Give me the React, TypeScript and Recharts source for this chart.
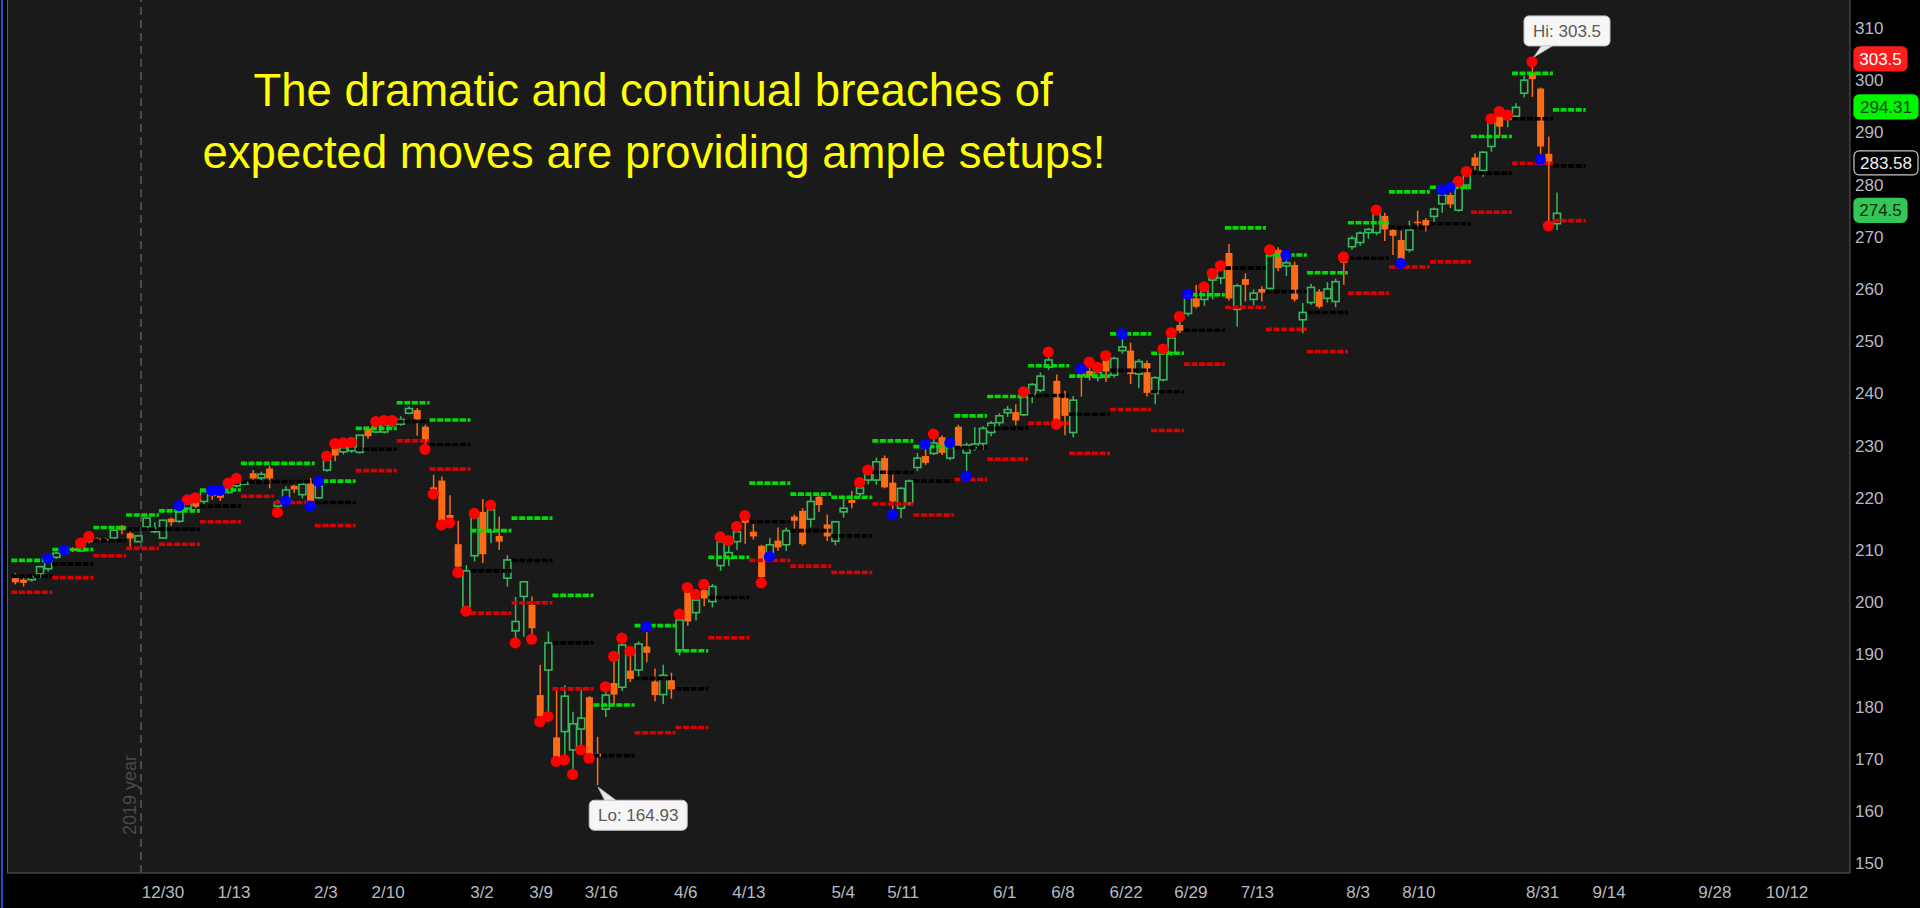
import React from "react";
import {
  ComposedChart,
  Bar,
  Scatter,
  XAxis,
  YAxis,
  CartesianGrid,
  ReferenceLine,
  ReferenceDot,
} from "recharts";

// daily OHLC, one entry per trading day starting 12/9/2019
const opens = [
  204.6, 204.3, 204.3, 205.4, 206.4, 208.6, 209.4, 210.3, 209.8, 211.9,
  212.2, 212.1, 212.3, 214.6, 213.2, 211.6, 214.4, 213.5, 212.3, 216.0,
  215.5, 218.0, 219.6, 219.3, 220.6, 220.6, 221.0, 222.3, 222.8, 224.7,
  223.8, 225.6, 218.4, 220.0, 222.3, 220.6, 223.3, 220.0, 225.3, 229.5,
  228.8, 229.0, 228.7, 233.3, 232.6, 232.6, 234.0, 234.1, 236.2, 236.8,
  233.6, 222.0, 223.3, 216.7, 211.1, 199.0, 208.9, 217.3, 213.5, 212.7,
  204.6, 194.5, 201.1, 199.5, 182.2, 187.0, 174.1, 175.2, 171.7, 175.7,
  181.8, 171.0, 179.5, 184.5, 183.7, 186.9, 187.0, 191.5, 184.8, 182.3,
  185.1, 190.8, 202.0, 198.0, 202.3, 200.1, 207.0, 208.4, 211.6, 216.1,
  213.5, 210.8, 208.7, 211.8, 211.0, 216.4, 217.5, 215.9, 220.2, 214.9,
  211.7, 217.3, 219.6, 220.8, 223.4, 223.4, 227.6, 222.9, 218.0, 219.0,
  225.8, 228.0, 228.5, 231.6, 227.6, 233.6, 228.6, 229.6, 230.4, 232.5,
  234.4, 236.3, 236.4, 235.9, 239.8, 240.6, 245.0, 242.4, 239.1, 232.5,
  244.2, 244.3, 243.0, 246.4, 243.5, 248.2, 248.2, 243.7, 245.8, 240.0,
  242.6, 247.8, 253.1, 255.3, 258.2, 258.0, 261.7, 262.1, 266.9, 256.1,
  261.9, 258.0, 260.0, 260.1, 267.5, 264.4, 264.6, 254.1, 257.4, 259.5,
  258.2, 257.6, 265.9, 268.1, 268.9, 270.8, 270.8, 274.0, 271.3, 269.4,
  267.5, 272.9, 273.2, 273.9, 276.3, 278.0, 275.1, 279.9, 285.2, 282.7,
  287.3, 293.1, 292.5, 293.1, 297.5, 301.5, 298.4, 285.9, 272.5,
];
const highs = [
  205.6, 204.6, 205.3, 207.0, 208.3, 209.6, 210.0, 210.5, 211.3, 212.6,
  212.4, 212.3, 213.9, 214.8, 213.5, 212.9, 216.2, 215.3, 215.8, 216.2,
  218.5, 219.6, 220.0, 221.4, 221.4, 221.4, 222.8, 223.7, 223.2, 225.3,
  225.0, 226.1, 219.6, 222.2, 222.5, 222.8, 223.8, 223.2, 228.0, 230.4,
  230.5, 230.6, 232.1, 233.7, 234.6, 234.8, 234.8, 235.6, 237.5, 237.2,
  234.0, 224.4, 224.1, 220.5, 215.6, 207.1, 217.0, 219.7, 218.6, 216.4,
  209.0, 201.0, 204.1, 201.1, 188.0, 194.4, 183.0, 184.1, 179.0, 183.2,
  182.0, 174.2, 183.8, 189.6, 193.1, 190.6, 192.5, 195.3, 187.3, 188.0,
  186.5, 197.7, 202.8, 201.5, 203.4, 203.5, 212.5, 211.8, 214.5, 216.6,
  215.0, 211.0, 212.3, 214.3, 214.3, 216.8, 218.0, 220.3, 220.5, 216.8,
  215.6, 219.8, 221.3, 222.9, 225.3, 227.7, 228.1, 224.4, 222.0, 223.5,
  228.6, 230.3, 232.2, 232.0, 230.5, 234.0, 230.6, 233.5, 233.7, 234.7,
  236.2, 237.6, 237.9, 240.3, 242.0, 244.0, 247.9, 243.6, 240.5, 239.5,
  244.8, 246.0, 245.0, 247.2, 247.0, 251.4, 249.7, 246.6, 246.3, 243.3,
  248.5, 251.6, 254.7, 259.0, 260.8, 260.4, 263.0, 264.5, 268.6, 261.0,
  263.0, 259.9, 260.5, 267.5, 268.0, 266.5, 265.2, 257.3, 261.0, 260.0,
  261.3, 262.0, 266.1, 270.2, 271.0, 271.7, 275.1, 274.6, 272.0, 271.2,
  273.1, 275.0, 273.6, 275.6, 279.0, 279.5, 280.6, 282.5, 286.0, 286.4,
  292.6, 294.0, 293.5, 295.6, 300.8, 303.5, 298.6, 289.2, 278.5,
];
const lows = [
  203.4, 203.0, 203.9, 204.6, 205.9, 208.3, 209.0, 209.6, 209.6, 211.3,
  211.9, 211.8, 212.1, 213.0, 210.6, 211.4, 213.9, 213.2, 212.2, 214.6,
  215.2, 217.6, 218.0, 218.7, 219.6, 219.4, 220.8, 222.0, 222.6, 223.5,
  222.9, 221.8, 217.2, 219.4, 220.9, 219.9, 218.4, 219.8, 225.0, 227.0,
  228.3, 228.6, 228.5, 231.3, 232.4, 232.3, 233.5, 233.8, 236.0, 231.9,
  229.3, 220.7, 214.8, 215.2, 205.7, 198.3, 207.8, 207.5, 211.3, 210.0,
  203.0, 192.2, 193.4, 192.9, 177.1, 178.1, 169.5, 169.8, 167.0, 171.7,
  170.1, 164.93, 178.0, 180.5, 183.0, 184.7, 185.5, 188.5, 181.0, 180.5,
  181.5, 189.8, 195.5, 196.5, 199.2, 199.0, 206.0, 207.0, 210.0, 211.2,
  212.0, 203.7, 207.8, 209.8, 209.8, 213.7, 210.8, 214.3, 217.3, 211.7,
  210.9, 216.2, 218.0, 220.3, 222.6, 222.5, 221.8, 216.8, 216.1, 218.5,
  225.1, 226.3, 228.2, 228.2, 227.2, 229.3, 224.1, 229.0, 229.2, 231.8,
  233.8, 235.5, 233.9, 235.6, 238.1, 240.2, 244.5, 234.1, 232.0, 231.6,
  239.4, 242.5, 242.3, 242.2, 243.0, 247.6, 241.8, 241.0, 239.4, 237.9,
  242.3, 247.2, 251.5, 254.8, 256.3, 256.8, 258.0, 260.9, 257.8, 252.8,
  257.6, 256.9, 257.6, 259.7, 263.4, 262.5, 257.6, 251.5, 257.0, 256.3,
  257.4, 256.5, 260.8, 267.5, 268.3, 269.6, 270.3, 269.2, 266.5, 264.9,
  267.0, 272.0, 271.0, 272.7, 274.6, 275.5, 274.8, 279.0, 282.8, 281.5,
  286.3, 289.2, 291.0, 292.7, 296.7, 296.8, 284.8, 272.1, 271.3,
];
const closes = [
  203.8, 203.7, 204.8, 206.8, 207.6, 209.4, 209.8, 209.8, 210.8, 211.5,
  212.1, 212.0, 213.8, 213.8, 212.2, 212.7, 216.1, 214.2, 215.7, 215.3,
  217.3, 219.0, 218.3, 221.2, 220.3, 220.0, 222.0, 223.2, 222.9, 223.7,
  224.5, 223.7, 219.2, 221.5, 221.6, 222.6, 219.4, 222.3, 227.2, 228.1,
  229.6, 229.9, 232.0, 231.8, 234.2, 234.0, 234.6, 235.0, 237.1, 235.0,
  230.8, 221.2, 215.0, 216.1, 206.8, 206.0, 216.4, 209.2, 217.7, 211.6,
  208.1, 196.3, 203.9, 195.0, 178.1, 192.2, 170.0, 182.0, 176.7, 177.8,
  170.2, 170.4, 182.2, 182.3, 191.8, 185.3, 192.0, 190.3, 182.2, 186.0,
  183.3, 196.6, 196.3, 200.4, 200.7, 203.0, 211.6, 209.5, 213.5, 215.2,
  212.6, 204.8, 211.0, 210.5, 213.7, 215.6, 211.1, 219.3, 218.6, 212.6,
  215.4, 218.0, 219.0, 221.9, 224.7, 226.9, 222.0, 219.3, 221.8, 223.2,
  227.6, 226.7, 230.5, 228.6, 230.1, 229.8, 230.1, 230.3, 233.3, 234.3,
  235.7, 236.9, 234.8, 239.4, 241.7, 243.3, 246.4, 234.6, 235.7, 238.7,
  243.2, 243.3, 244.0, 244.2, 246.7, 248.9, 243.7, 246.1, 240.1, 243.0,
  248.3, 250.6, 252.0, 258.2, 256.6, 259.8, 262.2, 264.0, 258.2, 260.6,
  260.8, 259.2, 259.3, 266.5, 264.0, 265.0, 258.0, 255.5, 260.3, 256.6,
  260.0, 261.4, 265.0, 269.7, 270.7, 271.4, 274.5, 271.4, 270.2, 265.2,
  271.3, 272.6, 272.1, 275.3, 278.0, 276.2, 279.6, 281.8, 283.6, 286.2,
  292.7, 291.1, 293.4, 294.8, 300.0, 300.2, 287.3, 284.0, 274.5,
];

// weekly expected-move levels (first bar index, bars in week, upper, close, lower)
const weekStart = [
  0, 5, 10, 14, 18, 23, 28, 32, 37, 42, 47, 51, 56, 61, 66, 71, 76, 81, 85, 90,
  95, 100, 105, 110, 115, 119, 124, 129, 134, 139, 143, 148, 153, 158, 163, 168,
  173, 178, 183, 188,
];
const weekLen = [
  5, 5, 4, 4, 5, 5, 4, 5, 5, 5, 4, 5, 5, 5, 5, 5, 5, 4, 5, 5,
  5, 5, 5, 5, 4, 5, 5, 5, 5, 4, 5, 5, 5, 5, 5, 5, 5, 5, 5, 4,
];
const weekUpper = [
  208.0, 210.1, 214.3, 216.7, 217.5, 221.5, 226.6, 226.6, 223.2, 233.3,
  238.2, 234.9, 213.7, 216.1, 201.3, 180.3, 195.5, 190.7, 208.6, 222.8,
  220.7, 220.1, 230.9, 229.8, 235.7, 239.4, 245.3, 243.3, 251.4, 247.7,
  258.9, 271.7, 266.5, 263.1, 272.7, 278.6, 279.5, 289.2, 301.3, 294.31,
];
const weekMid = [
  205.0, 207.3, 211.8, 214.0, 214.0, 218.4, 223.0, 223.1, 219.1, 229.3,
  234.6, 230.2, 206.0, 208.0, 192.2, 170.6, 185.4, 183.4, 200.9, 215.4,
  213.7, 212.7, 224.9, 223.2, 229.6, 233.3, 239.6, 236.0, 244.4, 240.3,
  252.1, 264.0, 259.5, 255.5, 265.9, 271.8, 272.5, 282.2, 292.6, 283.58,
];
const weekLower = [
  201.9, 204.7, 208.9, 210.3, 211.1, 215.4, 220.3, 219.1, 214.7, 225.2,
  230.9, 225.5, 197.9, 199.9, 183.4, null, 175.0, 176.0, 193.2, 208.0,
  206.9, 205.7, 218.8, 216.7, 223.5, 227.4, 234.3, 228.5, 236.9, 232.9,
  245.6, 256.5, 252.3, 248.0, 259.2, 264.2, 265.2, 274.7, 284.1, 273.1,
];

// breach markers
const redDotIdx = [
  8, 9, 21, 22, 26, 27, 32, 38, 39, 40, 41, 44, 45, 46, 50, 51, 52, 53, 54, 55,
  56, 58, 61, 63, 64, 65, 66, 67, 68, 69, 70, 72, 73, 74, 75, 81, 82, 83, 84, 86,
  87, 88, 89, 91, 103, 104, 112, 123, 126, 127, 131, 132, 133, 140, 141, 142,
  145, 146, 147, 153, 162, 166, 176, 177, 180, 181, 182, 185, 187,
];
const redDotVal = [
  211.3, 212.6, 219.6, 220.0, 222.8, 223.7, 217.2, 228.0, 230.4, 230.5, 230.6,
  234.6, 234.8, 234.8, 229.3, 220.7, 214.8, 215.2, 205.7, 198.3, 217.0, 218.6,
  192.2, 192.9, 177.1, 178.1, 169.5, 169.8, 167.0, 171.7, 170.1, 183.8, 189.6,
  193.1, 190.6, 197.7, 202.8, 201.5, 203.4, 212.5, 211.8, 214.5, 216.6, 203.7,
  222.9, 225.3, 232.2, 240.3, 247.9, 234.1, 246.0, 245.0, 247.2, 248.5, 251.6,
  254.7, 260.4, 263.0, 264.5, 267.5, 266.1, 275.1, 280.6, 282.5, 292.6, 294.0,
  293.3, 303.5, 272.1,
];
const blueDotIdx = [
  4, 6, 20, 24, 25, 33, 36, 37, 77, 92, 107, 111, 114, 116, 130, 135, 143, 155,
  169, 174, 175, 186,
];
const blueDotVal = [
  208.4, 210.0, 218.5, 221.4, 221.4, 219.4, 218.4, 223.1, 195.3, 208.7, 216.8,
  230.3, 230.5, 224.1, 244.7, 251.4, 259.0, 266.5, 264.9, 279.0, 279.5, 284.8,
];

const tickPos = [
  18.05, 26.7, 37.9, 45.5, 56.95, 64.15, 71.5, 81.8, 89.5, 101.0, 108.3, 120.7,
  127.8, 135.5, 143.4, 151.5, 163.8, 171.2, 186.3, 194.4, 207.3, 216.1,
];
const tickLabels = [
  "12/30", "1/13", "2/3", "2/10", "3/2", "3/9", "3/16", "4/6", "4/13", "5/4",
  "5/11", "6/1", "6/8", "6/22", "6/29", "7/13", "8/3", "8/10", "8/31", "9/14",
  "9/28", "10/12",
];
const yTicks = [150, 160, 170, 180, 190, 200, 210, 220, 230, 240, 250, 260, 270, 280, 290, 300, 310];

const tagValues = [303.5, 294.31, 283.58, 274.5];
const tagTexts = ["303.5", "294.31", "283.58", "274.5"];

const yearLineAt = 15.37;
const hiIdx = 185;
const hiValue = 303.5;
const loIdx = 71;
const loValue = 164.93;

const candles = opens.map((o, i) => ({ i, o, h: highs[i], l: lows[i], c: closes[i] }));
const redDots = redDotIdx.map((i, k) => ({ i, v: redDotVal[k] }));
const blueDots = blueDotIdx.map((i, k) => ({ i, v: blueDotVal[k] }));

const FONT = "'Liberation Sans', Arial, sans-serif";
const UP = "#36b95b";
const DOWN = "#ff6a17";
const BG = "#1a1a1a";
const AXIS_TXT = "#b6bac4";

const tagStyles = [
  { bg: "#ff1c1c", fg: "#ffffff", border: "#ff1c1c", w: 53 },
  { bg: "#00f500", fg: "#0b3d0b", border: "#00f500", w: 64 },
  { bg: "#000000", fg: "#f0f0f0", border: "#c8c8c8", w: 64 },
  { bg: "#34c757", fg: "#0d2e12", border: "#34c757", w: 53 },
];

const Candle = (props: any) => {
  const { x, y, width, height, payload } = props;
  if (!payload) return null;
  const top = Math.min(y, y + height);
  const span = Math.abs(height);
  const k = payload.h > payload.l ? span / (payload.h - payload.l) : 0;
  const cx = x + width / 2;
  const yo = top + (payload.h - payload.o) * k;
  const yc = top + (payload.h - payload.c) * k;
  const up = payload.c >= payload.o;
  const bTop = Math.min(yo, yc);
  const bH = Math.max(Math.abs(yc - yo), 1.5);
  const col = up ? UP : DOWN;
  return (
    <g>
      <line x1={cx} x2={cx} y1={top} y2={top + span} stroke={col} strokeWidth={1.5} />
      <rect
        x={cx - 3.5}
        y={bTop}
        width={7}
        height={bH}
        fill={up ? BG : col}
        stroke={col}
        strokeWidth={up ? 1.6 : 0}
      />
    </g>
  );
};

const XTick = ({ x, y, payload }: any) => {
  const k = tickPos.indexOf(payload.value);
  return (
    <text x={x} y={y + 17} textAnchor="middle" fill={AXIS_TXT} fontSize={17} fontFamily={FONT}>
      {k >= 0 ? tickLabels[k] : ""}
    </text>
  );
};

const YTick = ({ x, y, payload }: any) => (
  <text x={x - 3} y={y + 6} textAnchor="start" fill={AXIS_TXT} fontSize={17} fontFamily={FONT}>
    {payload.value}
  </text>
);

const Dot = (color: string) => (p: any) => <circle cx={p.cx} cy={p.cy} r={5.6} fill={color} />;

const tagLabel = (k: number) => (p: any) => {
  const vb = p.viewBox;
  const st = tagStyles[k];
  const x = vb.x + vb.width + 4;
  const cy = vb.y - 3;
  return (
    <g>
      <rect x={x} y={cy - 12} width={st.w} height={24} rx={5} fill={st.bg} stroke={st.border} strokeWidth={1.2} />
      <text x={x + st.w / 2} y={cy + 6} textAnchor="middle" fill={st.fg} fontSize={17} fontFamily={FONT}>
        {tagTexts[k]}
      </text>
    </g>
  );
};

const callout = (text: string, below: boolean, w: number) => (p: any) => {
  const vb = p.viewBox;
  const cx = vb.x + vb.width / 2;
  const cy = vb.y + vb.height / 2;
  const h = 30;
  const bx = cx - 8;
  const by = below ? cy + 15 : cy - 46;
  const tail = below
    ? `M${cx + 1},${cy + 2} L${cx + 8},${by + 1} L${cx + 20},${by + 1} Z`
    : `M${cx + 2},${cy - 5} L${cx + 10},${by + h - 1} L${cx + 22},${by + h - 1} Z`;
  return (
    <g>
      <path d={tail} fill="#e8e8e8" stroke="#bdbdbd" strokeWidth={1} />
      <rect x={bx} y={by} width={w} height={h} rx={5} fill="#f6f6f6" stroke="#c4c4c4" strokeWidth={1} />
      <text x={bx + w / 2} y={by + 21} textAnchor="middle" fill="#5a5a5a" fontSize={17} fontFamily={FONT}>
        {text}
      </text>
    </g>
  );
};

const yearLabel = (p: any) => {
  const vb = p.viewBox;
  const x = vb.x - 11;
  const y = vb.y + vb.height - 78;
  return (
    <text
      x={x}
      y={y}
      transform={`rotate(-90 ${x} ${y})`}
      textAnchor="middle"
      dominantBaseline="central"
      fill="#4a4a4a"
      fontSize={18}
      fontFamily={FONT}
    >
      2019 year
    </text>
  );
};

const levelLine = (key: string, s: number, len: number, v: number | null, color: string) =>
  v == null ? null : (
    <ReferenceLine
      key={key}
      segment={[
        { x: s - 0.45, y: v },
        { x: s + len - 0.45, y: v },
      ]}
      stroke={color}
      strokeWidth={3.6}
      strokeDasharray="6 1.6"
    />
  );

export default function App() {
  return (
    <div
      style={{
        position: "absolute",
        left: 0,
        top: 0,
        width: 1920,
        height: 908,
        background: "#000",
        overflow: "hidden",
      }}
    >
      <ComposedChart
        width={1920}
        height={908}
        data={candles}
        margin={{ top: 0, right: 0, bottom: 0, left: 7 }}
      >
        <CartesianGrid fill={BG} horizontal={false} vertical={false} />
        <XAxis
          dataKey="i"
          type="number"
          domain={[-0.976, 223.78]}
          allowDataOverflow
          ticks={tickPos}
          interval={0}
          height={35}
          tick={<XTick />}
          tickLine={false}
          axisLine={{ stroke: "#5c5c5c" }}
        />
        <YAxis
          orientation="right"
          width={70}
          type="number"
          domain={[148.12, 315.36]}
          allowDataOverflow
          ticks={yTicks}
          interval={0}
          tick={<YTick />}
          tickLine={false}
          axisLine={{ stroke: "#5c5c5c" }}
        />
        <ReferenceLine
          x={yearLineAt}
          stroke="#5a5a5a"
          strokeWidth={1.5}
          strokeDasharray="8 5"
          label={yearLabel}
        />
        <Bar
          dataKey={(d: any) => [d.l, d.h]}
          barSize={7}
          shape={Candle}
          isAnimationActive={false}
        />
        {weekStart.map((s, w) => levelLine(`m${w}`, s, weekLen[w], weekMid[w], "#000000"))}
        {weekStart.map((s, w) => levelLine(`u${w}`, s, weekLen[w], weekUpper[w], "#00dd00"))}
        {weekStart.map((s, w) => levelLine(`l${w}`, s, weekLen[w], weekLower[w], "#dd0000"))}
        <Scatter data={redDots} dataKey="v" shape={Dot("#ff0000")} isAnimationActive={false} />
        <Scatter data={blueDots} dataKey="v" shape={Dot("#0000ff")} isAnimationActive={false} />
        <ReferenceDot x={hiIdx} y={hiValue} r={5} fill="none" stroke="none" label={callout("Hi: 303.5", false, 86)} />
        <ReferenceDot x={loIdx} y={loValue} r={5} fill="none" stroke="none" label={callout("Lo: 164.93", true, 98)} />
        {tagValues.map((v, k) => (
          <ReferenceLine key={`t${k}`} y={v} stroke="none" label={tagLabel(k)} />
        ))}
      </ComposedChart>
      <div style={{ position: "absolute", left: 1, top: 0, width: 2, height: 908, background: "#1f4fd6" }} />
      <div style={{ position: "absolute", left: 7, top: 0, width: 1, height: 873, background: "#5c5c5c" }} />
      <svg
        width={1920}
        height={908}
        style={{ position: "absolute", left: 0, top: 0, pointerEvents: "none" }}
      >
        <text x={653} y={106} textAnchor="middle" fill="#ffff00" fontSize={45.5} fontFamily={FONT}>
          The dramatic and continual breaches of
        </text>
        <text x={654} y={168} textAnchor="middle" fill="#ffff00" fontSize={45.5} fontFamily={FONT}>
          expected moves are providing ample setups!
        </text>
      </svg>
    </div>
  );
}
